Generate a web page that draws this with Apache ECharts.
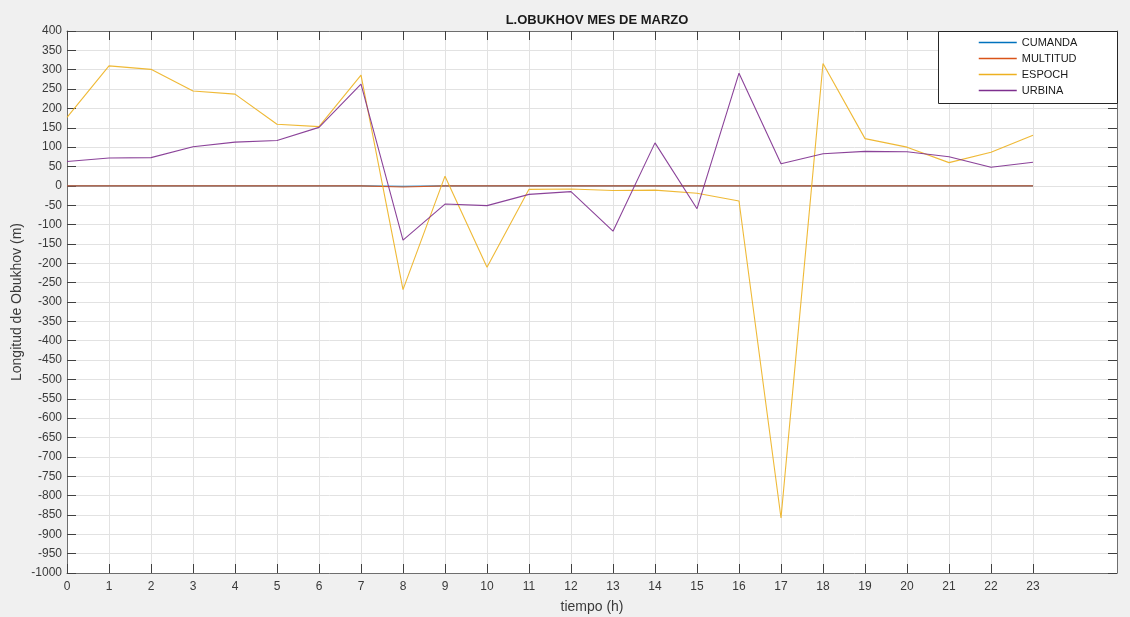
<!DOCTYPE html>
<html>
<head>
<meta charset="utf-8">
<title>L.OBUKHOV MES DE MARZO</title>
<script src="https://cdn.jsdelivr.net/npm/echarts@6/dist/echarts.min.js"></script>
<style>
  html, body { margin: 0; padding: 0; background: #f0f0f0; }
  #chart { width: 1130px; height: 617px; }
</style>
</head>
<body>
<div id="chart"></div>
<script>
// Hours of the day (x axis ticks and labels)
var hours = [0, 1, 2, 3, 4, 5, 6, 7, 8, 9, 10, 11, 12, 13, 14, 15, 16, 17, 18, 19, 20, 21, 22, 23];
var hourLabels = ['0', '1', '2', '3', '4', '5', '6', '7', '8', '9', '10', '11', '12', '13', '14', '15', '16', '17', '18', '19', '20', '21', '22', '23'];

// Obukhov length per station (m)
var cumanda  = [0, 0, 0, 0, 0, 0, 0, 0, -1, 0, 0, 0, 0, 0, 0, 0, 0, 0, 0, 0, 0, 0, 0, 0];
var multitud = [0, 0, 0, 0, 0, 0, 0, 0, -3, 0, 0, 0, 0, 0, 0, 0, 0, 0, 0, 0, 0, 0, 0, 0];
var espoch   = [177, 310, 301, 245, 237, 159, 153, 286, -268, 25, -210, -9, -8, -12, -11, -19, -39, -858, 316, 122, 100, 60, 87, 131];
var urbina   = [63, 72, 73, 101, 113, 117, 151, 263, -140, -47, -51, -22, -15, -117, 111, -59, 291, 57, 83, 89, 88, 75, 48, 61];

var stationNames = ['CUMANDA', 'MULTITUD', 'ESPOCH', 'URBINA'];
var stationData = [cumanda, multitud, espoch, urbina];
var stationColors = ['#0072BD', '#D95319', '#EDB120', '#7E2F8E'];

var FONT = "'Liberation Sans', Arial, Helvetica, sans-serif";
var gridColor = '#e2e2e2';
var axisColor = '#6e6e6e';
var textColor = '#3a3a3a';

function pairs(values) {
  return values.map(function (v, i) { return [hours[i], v]; });
}

// vertical grid lines only up to the last hour
var xSplitColors = hours.map(function () { return gridColor; }).concat(['rgba(0,0,0,0)', 'rgba(0,0,0,0)']);

var chart = echarts.init(document.getElementById('chart'), null, { renderer: 'canvas' });

var option = {
  backgroundColor: '#f0f0f0',
  animation: false,
  textStyle: { fontFamily: FONT },
  title: {
    text: 'L.OBUKHOV MES DE MARZO',
    left: 592,
    textAlign: 'center',
    top: 9,
    textStyle: { fontFamily: FONT, fontSize: 13, fontWeight: 'bold', color: '#1a1a1a' }
  },
  grid: {
    left: 67, top: 31, width: 1050, height: 542,
    containLabel: false,
    outerBoundsMode: 'none',
    show: true, backgroundColor: '#ffffff', borderWidth: 0
  },
  legend: {
    data: stationNames,
    orient: 'vertical',
    left: 978,
    top: 37,
    padding: 0,
    itemWidth: 38,
    itemHeight: 12,
    itemGap: 5,
    selectedMode: false,
    itemStyle: { opacity: 0 },
    lineStyle: { width: 1.5, opacity: 1 },
    textStyle: { fontFamily: FONT, fontSize: 11, color: '#1a1a1a' }
  },
  graphic: [{
    type: 'rect',
    z: 3,
    shape: { x: 938.5, y: 31.5, width: 179, height: 72 },
    style: { fill: '#ffffff', stroke: '#262626', lineWidth: 1 }
  }],
  xAxis: [{
    type: 'value',
    min: 0, max: 25, interval: 1,
    name: 'tiempo (h)',
    nameLocation: 'middle',
    nameGap: 27,
    nameMoveOverlap: false,
    nameTextStyle: { fontFamily: FONT, fontSize: 14, color: textColor },
    axisLine: { show: true, onZero: false, lineStyle: { color: axisColor, width: 1 } },
    axisTick: { show: true, inside: true, length: 9, customValues: hours, lineStyle: { color: '#404040' } },
    axisLabel: {
      show: true, margin: 8, customValues: hours,
      fontFamily: FONT, fontSize: 12, color: textColor,
      formatter: function (v) { var i = hours.indexOf(v); return i >= 0 ? hourLabels[i] : ''; }
    },
    splitLine: { show: true, lineStyle: { color: xSplitColors, width: 1 } }
  }, {
    type: 'value',
    position: 'top',
    min: 0, max: 25, interval: 1,
    axisLine: { show: true, onZero: false, lineStyle: { color: axisColor, width: 1 } },
    axisTick: { show: true, inside: true, length: 9, customValues: hours, lineStyle: { color: '#404040' } },
    axisLabel: { show: false },
    splitLine: { show: false }
  }],
  yAxis: [{
    type: 'value',
    min: -1000, max: 400, interval: 50,
    name: 'Longitud de Obukhov (m)',
    nameLocation: 'middle',
    nameGap: 43,
    nameMoveOverlap: false,
    nameTextStyle: { fontFamily: FONT, fontSize: 14, color: textColor },
    axisLine: { show: true, onZero: false, lineStyle: { color: axisColor, width: 1 } },
    axisTick: { show: true, inside: true, length: 9, lineStyle: { color: '#404040' } },
    axisLabel: {
      show: true, margin: 5, fontFamily: FONT, fontSize: 12, color: textColor,
      formatter: function (v) { return String(v); }
    },
    splitLine: { show: true, lineStyle: { color: gridColor, width: 1 } }
  }, {
    type: 'value',
    position: 'right',
    min: -1000, max: 400, interval: 50,
    axisLine: { show: true, onZero: false, lineStyle: { color: axisColor, width: 1 } },
    axisTick: { show: true, inside: true, length: 9, lineStyle: { color: '#404040' } },
    axisLabel: { show: false },
    splitLine: { show: false }
  }],
  series: stationNames.map(function (name, k) {
    return {
      name: name,
      type: 'line',
      xAxisIndex: 0,
      yAxisIndex: 0,
      symbol: 'none',
      smooth: false,
      color: stationColors[k],
      lineStyle: { color: stationColors[k], width: 1.1, opacity: 0.9 },
      data: pairs(stationData[k])
    };
  })
};

chart.setOption(option);
</script>
</body>
</html>
